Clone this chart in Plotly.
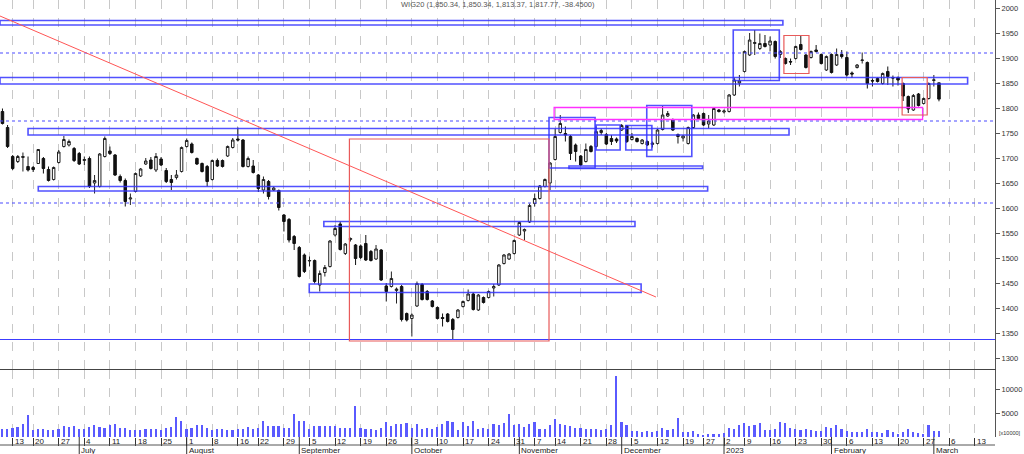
import pandas as pd
import plotly.graph_objects as go

# ---------------- calendar (trading days shown on the chart) ----------------
holidays = ["2022-06-16", "2022-08-15", "2022-11-01", "2022-11-11",
            "2022-12-23", "2022-12-26", "2023-01-06"]
all_days = [d for d in pd.bdate_range("2022-06-09", "2023-03-17")
            if d.strftime("%Y-%m-%d") not in holidays]
n_bars = 184
dates = all_days[:n_bars]

# ---------------- WIG20 daily OHLC ----------------
opens = [1793, 1761, 1703, 1693, 1701, 1683, 1681, 1689, 1699, 1677,
         1657, 1691, 1723, 1726, 1719, 1709, 1695, 1699, 1650, 1643,
         1703, 1714, 1706, 1663, 1655, 1618, 1633, 1664, 1688, 1696,
         1676, 1698, 1675, 1657, 1661, 1673, 1723, 1728, 1699, 1689,
         1683, 1657, 1695, 1695, 1704, 1721, 1738, 1736, 1683, 1684,
         1666, 1636, 1653, 1636, 1635, 1586, 1577, 1543, 1521, 1506,
         1494, 1495, 1446, 1471, 1483, 1546, 1568, 1509, 1537, 1526,
         1524, 1529, 1513, 1498, 1516, 1444, 1443, 1435, 1443, 1389,
         1379, 1404, 1447, 1433, 1414, 1401, 1381, 1388, 1377, 1381,
         1403, 1415, 1428, 1396, 1421, 1421, 1440, 1446, 1489, 1498,
         1509, 1546, 1554, 1572, 1609, 1619, 1643, 1650, 1697, 1751,
         1749, 1743, 1726, 1704, 1693, 1723, 1723, 1751, 1747, 1739,
         1738, 1756, 1764, 1737, 1739, 1729, 1733, 1727, 1729, 1757,
         1784, 1777, 1747, 1740, 1729, 1761, 1786, 1789, 1768, 1766,
         1796, 1792, 1793, 1826, 1850, 1873, 1906, 1929, 1919, 1929,
         1926, 1933, 1907, 1899, 1893, 1899, 1927, 1906, 1901, 1916,
         1907, 1876, 1907, 1886, 1907, 1901, 1870, 1881, 1895, 1891,
         1855, 1859, 1849, 1873, 1861, 1861, 1849, 1823, 1796, 1828,
         1809, 1819, 1855, 1850.34]
highs = [1799, 1766, 1706, 1706, 1711, 1703, 1684, 1718, 1702, 1683,
         1683, 1716, 1744, 1737, 1722, 1712, 1703, 1703, 1666, 1710,
         1743, 1723, 1708, 1667, 1659, 1629, 1671, 1680, 1700, 1702,
         1710, 1702, 1680, 1666, 1676, 1723, 1739, 1731, 1701, 1691,
         1686, 1697, 1699, 1697, 1725, 1740, 1761, 1738, 1703, 1696,
         1668, 1663, 1656, 1643, 1637, 1588, 1580, 1546, 1524, 1509,
         1503, 1497, 1475, 1486, 1536, 1566, 1573, 1530, 1541, 1528,
         1527, 1546, 1516, 1526, 1518, 1450, 1473, 1441, 1446, 1391,
         1389, 1453, 1450, 1436, 1416, 1403, 1389, 1390, 1380, 1398,
         1415, 1437, 1431, 1428, 1423, 1435, 1448, 1488, 1508, 1510,
         1537, 1573, 1559, 1609, 1629, 1646, 1659, 1692, 1759, 1786,
         1763, 1746, 1729, 1706, 1729, 1726, 1763, 1759, 1750, 1746,
         1741, 1768, 1766, 1750, 1741, 1738, 1735, 1733, 1758, 1804,
         1794, 1779, 1749, 1746, 1763, 1788, 1791, 1791, 1786, 1801,
         1798, 1797, 1828, 1861, 1866, 1915, 1950, 1956, 1949, 1946,
         1943, 1935, 1916, 1901, 1899, 1925, 1946, 1908, 1915, 1926,
         1909, 1905, 1909, 1919, 1916, 1913, 1873, 1888, 1911, 1893,
         1859, 1861, 1871, 1883, 1865, 1863, 1851, 1825, 1828, 1830,
         1821, 1851, 1866, 1850.34]
lows = [1767, 1720, 1676, 1690, 1673, 1673, 1672, 1688, 1669, 1653,
        1655, 1689, 1721, 1723, 1692, 1686, 1686, 1640, 1629, 1641,
        1701, 1706, 1664, 1651, 1603, 1606, 1631, 1662, 1686, 1677,
        1672, 1684, 1650, 1636, 1657, 1671, 1721, 1709, 1686, 1671,
        1643, 1655, 1682, 1681, 1702, 1719, 1733, 1681, 1681, 1669,
        1632, 1629, 1617, 1634, 1595, 1553, 1531, 1516, 1461, 1470,
        1483, 1449, 1433, 1463, 1481, 1543, 1515, 1506, 1533, 1486,
        1498, 1494, 1493, 1496, 1454, 1413, 1441, 1409, 1373, 1373,
        1343, 1402, 1415, 1415, 1401, 1377, 1363, 1371, 1337, 1379,
        1401, 1413, 1395, 1394, 1409, 1419, 1423, 1444, 1487, 1496,
        1507, 1544, 1536, 1570, 1603, 1617, 1641, 1636, 1695, 1749,
        1733, 1696, 1693, 1684, 1691, 1711, 1721, 1746, 1726, 1726,
        1730, 1754, 1730, 1735, 1731, 1727, 1724, 1721, 1727, 1755,
        1782, 1754, 1729, 1733, 1727, 1759, 1777, 1764, 1759, 1764,
        1791, 1789, 1791, 1824, 1843, 1871, 1904, 1906, 1916, 1921,
        1913, 1899, 1900, 1887, 1886, 1897, 1915, 1879, 1899, 1911,
        1887, 1874, 1869, 1884, 1899, 1863, 1860, 1879, 1889, 1839,
        1843, 1851, 1847, 1846, 1843, 1845, 1814, 1790, 1794, 1803,
        1807, 1817, 1843, 1813.37]
closes = [1769, 1723, 1679, 1703, 1703, 1676, 1677, 1717, 1679, 1655,
          1681, 1712, 1737, 1733, 1695, 1688, 1697, 1643, 1655, 1708,
          1739, 1709, 1666, 1655, 1613, 1620, 1669, 1678, 1694, 1679,
          1703, 1686, 1653, 1651, 1666, 1721, 1735, 1711, 1688, 1673,
          1653, 1695, 1684, 1683, 1723, 1736, 1736, 1683, 1699, 1671,
          1639, 1657, 1623, 1640, 1601, 1573, 1536, 1529, 1463, 1473,
          1495, 1453, 1469, 1481, 1534, 1559, 1517, 1528, 1539, 1499,
          1501, 1496, 1495, 1518, 1456, 1433, 1459, 1438, 1377, 1376,
          1386, 1449, 1417, 1417, 1403, 1379, 1379, 1373, 1357, 1396,
          1413, 1428, 1397, 1426, 1411, 1433, 1443, 1486, 1506, 1508,
          1535, 1571, 1557, 1605, 1619, 1644, 1657, 1690, 1743, 1769,
          1746, 1709, 1713, 1686, 1717, 1713, 1753, 1755, 1728, 1733,
          1734, 1765, 1733, 1743, 1733, 1736, 1726, 1730, 1756, 1786,
          1789, 1756, 1743, 1744, 1761, 1786, 1779, 1766, 1774, 1799,
          1793, 1794, 1826, 1856, 1854, 1913, 1936, 1931, 1929, 1923,
          1934, 1903, 1913, 1889, 1892, 1923, 1917, 1881, 1913, 1913,
          1889, 1903, 1871, 1907, 1903, 1866, 1868, 1886, 1896, 1849,
          1854, 1853, 1869, 1863, 1860, 1856, 1824, 1798, 1825, 1805,
          1819, 1849, 1856.22, 1817.77]
volumes = [1600, 1735, 1870, 2080, 2780, 4650, 1390, 1735, 1600, 1390,
           1390, 1600, 2220, 2010, 2220, 1735, 1735, 2080, 2570, 2080,
           1940, 2570, 2700, 1940, 1940, 1390, 1530, 1390, 1735, 1735,
           1600, 1390, 1940, 2080, 4300, 3330, 1600, 1870, 2570, 2570,
           1870, 1390, 1600, 1600, 1390, 1390, 1735, 1735, 2080, 1735,
           1940, 3330, 2290, 2290, 2290, 1940, 1870, 4860, 3260, 3400,
           1600, 2220, 2290, 2290, 2220, 2290, 1870, 1870, 1870, 6590,
           1870, 1600, 1735, 1530, 1940, 3120, 2220, 2640, 2780, 2910,
           1940, 2640, 1735, 1870, 1735, 2080, 2640, 3330, 3120, 1530,
           3120, 2220, 3330, 1600, 1940, 1735, 2640, 2570, 2980, 4860,
           2430, 2780, 2080, 2640, 3120, 1735, 1735, 2570, 3820, 2780,
           2570, 2290, 1940, 1870, 1600, 1735, 1735, 1390, 1735, 2570,
           12900, 3190, 2500, 1250, 1250, 1110, 1250, 1110, 1250, 1940,
           1390, 1600, 4030, 900, 900, 1250, 555, 420, 555, 555,
           555, 690, 1940, 1600, 2500, 2980, 2290, 2430, 2980, 1390,
           1460, 1600, 3190, 2850, 1940, 1600, 1390, 1735, 1390, 1250,
           1250, 2080, 1940, 2430, 1735, 1250, 900, 900, 900, 1600,
           1110, 900, 690, 1390, 1110, 555, 1110, 1600, 900, 690,
           555, 2430, 1250, 1250]

# ---------------- drawing-tool levels (trading-day positions, price levels) ----------------
dotted_levels = [1910, 1774, 1610]
support_line_level = 1337
blue_channels = [  # (start, end, low, high)
    (-1, 152.5, 1966, 1975),
    (-1, 188.6, 1848, 1861),
    (5.0, 153.7, 1746, 1759),
    (7.0, 137.8, 1634, 1643),
    (62.8, 123.6, 1563, 1573),
    (59.95, 124.8, 1431, 1448),
    (110.7, 136.8, 1679, 1684),
    (106.8, 115.8, 1680, 1781),
    (116.0, 120.7, 1716, 1766),
    (121.8, 126.9, 1716, 1765),
    (125.9, 134.7, 1703, 1805),
    (142.8, 151.8, 1855, 1956),
]
magenta_channel = (107.8, 179.8, 1777, 1801)
red_boxes = [
    (67.8, 106.8, 1334, 1738),
    (152.7, 157.6, 1869, 1945),
    (175.8, 180.7, 1786, 1861),
]
trend_line = ((-0.48, 1984), (127.7, 1422))

title_text = "WIG20 (1,850.34, 1,850.34, 1,813.37, 1,817.77, -38.4500)"
price_ticks = list(range(1300, 2001, 50))
volume_ticks = [5000, 10000]
volume_tick_text = ["5000", "10000"]
month_names = {7: "July", 8: "August", 9: "September", 10: "October",
               11: "November", 12: "December", 1: "2023", 2: "February", 3: "March"}

# ---------------- derived positions ----------------
idx = list(range(n_bars))
week_pos, week_lab, month_pos, month_lab = [], [], [], []
for i, d in enumerate(all_days):
    if i > 0 and d > pd.Timestamp("2023-03-13"):
        break
    if i > 0 and (d.isocalendar()[1] != all_days[i - 1].isocalendar()[1]):
        week_pos.append(i)
        week_lab.append(str(d.day))
    if i > 0 and d.month != all_days[i - 1].month:
        month_pos.append(i)
        month_lab.append(month_names[d.month])

X_RANGE = [-0.48, 193.95]
H_PLOT = 437.0

def py(px):  # paper y from pixel row
    return (H_PLOT - px) / H_PLOT

fig = go.Figure()
fig.add_trace(go.Candlestick(
    x=idx, open=opens, high=highs, low=lows, close=closes,
    increasing=dict(line=dict(color="#222222", width=1), fillcolor="white"),
    decreasing=dict(line=dict(color="#111111", width=1), fillcolor="#111111"),
    whiskerwidth=0, xaxis="x", yaxis="y", showlegend=False, hoverinfo="skip"))
fig.add_trace(go.Bar(
    x=idx, y=volumes, width=0.32, marker=dict(color="#5a5aff", line=dict(width=0)),
    xaxis="x2", yaxis="y2", showlegend=False, hoverinfo="skip"))

shapes = []
for lv in dotted_levels:
    shapes.append(dict(type="line", xref="x", yref="y", x0=X_RANGE[0], x1=X_RANGE[1],
                       y0=lv, y1=lv, line=dict(color="#4b4bff", width=1.2, dash="dot")))
shapes.append(dict(type="line", xref="x", yref="y", x0=X_RANGE[0], x1=X_RANGE[1],
                   y0=support_line_level, y1=support_line_level,
                   line=dict(color="#3c3cff", width=1.2)))
for (a, b, lo, hi) in blue_channels:
    shapes.append(dict(type="rect", xref="x", yref="y", x0=max(a, X_RANGE[0]), x1=b,
                       y0=lo, y1=hi, line=dict(color="rgba(50,50,255,0.85)", width=1.6)))
a, b, lo, hi = magenta_channel
shapes.append(dict(type="rect", xref="x", yref="y", x0=a, x1=b, y0=lo, y1=hi,
                   line=dict(color="#ff30ff", width=1.3)))
for (a, b, lo, hi) in red_boxes:
    shapes.append(dict(type="rect", xref="x", yref="y", x0=a, x1=b, y0=lo, y1=hi,
                       line=dict(color="#e85a5a", width=1.2)))
(tx0, ty0), (tx1, ty1) = trend_line
shapes.append(dict(type="line", xref="x", yref="y", x0=tx0, y0=ty0, x1=tx1, y1=ty1,
                   line=dict(color="#ff5555", width=1)))
# bottom axis line and month separators
shapes.append(dict(type="line", xref="paper", yref="paper", x0=0, x1=1,
                   y0=py(445), y1=py(445), line=dict(color="#555555", width=1)))
for mp in month_pos:
    shapes.append(dict(type="line", xref="x2", yref="paper", x0=mp, x1=mp,
                       y0=py(437), y1=py(455), line=dict(color="#333333", width=1)))

annotations = [dict(text=title_text, xref="paper", yref="paper", x=0.5, y=py(5),
                    xanchor="center", yanchor="middle", showarrow=False,
                    font=dict(size=7.5, color="#555555"))]
for p, l in zip(week_pos, week_lab):
    annotations.append(dict(text=l, xref="x2", yref="paper", x=p, y=py(441.5),
                            xanchor="left", yanchor="middle", xshift=0, showarrow=False,
                            font=dict(size=8, color="#222222")))
for p, l in zip(month_pos, month_lab):
    annotations.append(dict(text=l, xref="x2", yref="paper", x=p, y=py(450.5),
                            xanchor="left", yanchor="middle", xshift=0, showarrow=False,
                            font=dict(size=8, color="#222222")))
annotations.append(dict(text="[x10000]", xref="paper", yref="paper", x=1, y=py(433),
                        xanchor="left", yanchor="middle", xshift=2, showarrow=False,
                        font=dict(size=5.5, color="#333333")))

grid = dict(showgrid=True, gridcolor="#c8c8c8", griddash="dash", gridwidth=1)
fig.update_layout(
    width=1024, height=454, margin=dict(l=0, r=29, t=0, b=17),
    paper_bgcolor="white", plot_bgcolor="white",
    font=dict(family="Liberation Sans, Arial, sans-serif", size=8, color="#333333"),
    xaxis=dict(domain=[0, 1], anchor="y", range=X_RANGE, tickvals=week_pos,
               showticklabels=False, ticks="", zeroline=False, showline=True,
               linecolor="#444444", linewidth=1, rangeslider=dict(visible=False), **grid),
    yaxis=dict(domain=[py(369), 1], anchor="x", side="right", range=[1278, 2016],
               tickvals=price_ticks, ticks="outside", ticklen=4, tickcolor="#555555",
               showgrid=False, zeroline=False, showline=True, linecolor="#555555",
               tickfont=dict(size=7.5, color="#333333")),
    xaxis2=dict(domain=[0, 1], anchor="y2", range=X_RANGE, tickvals=week_pos,
                showticklabels=False, ticks="outside", ticklen=8, tickcolor="#333333",
                zeroline=False, showline=False, **grid),
    yaxis2=dict(domain=[0, py(370)], anchor="x2", side="right", range=[-60, 14200],
                tickvals=volume_ticks, ticktext=volume_tick_text, ticks="outside",
                ticklen=4, tickcolor="#555555",
                showgrid=False, zeroline=False, showline=True, linecolor="#555555",
                tickfont=dict(size=7.5, color="#333333")),
    shapes=shapes, annotations=annotations, bargap=0,
)
fig.write_html("out.html", config={"displayModeBar": False},
               post_script="document.body.style.margin='0';document.body.style.overflow='hidden';")
